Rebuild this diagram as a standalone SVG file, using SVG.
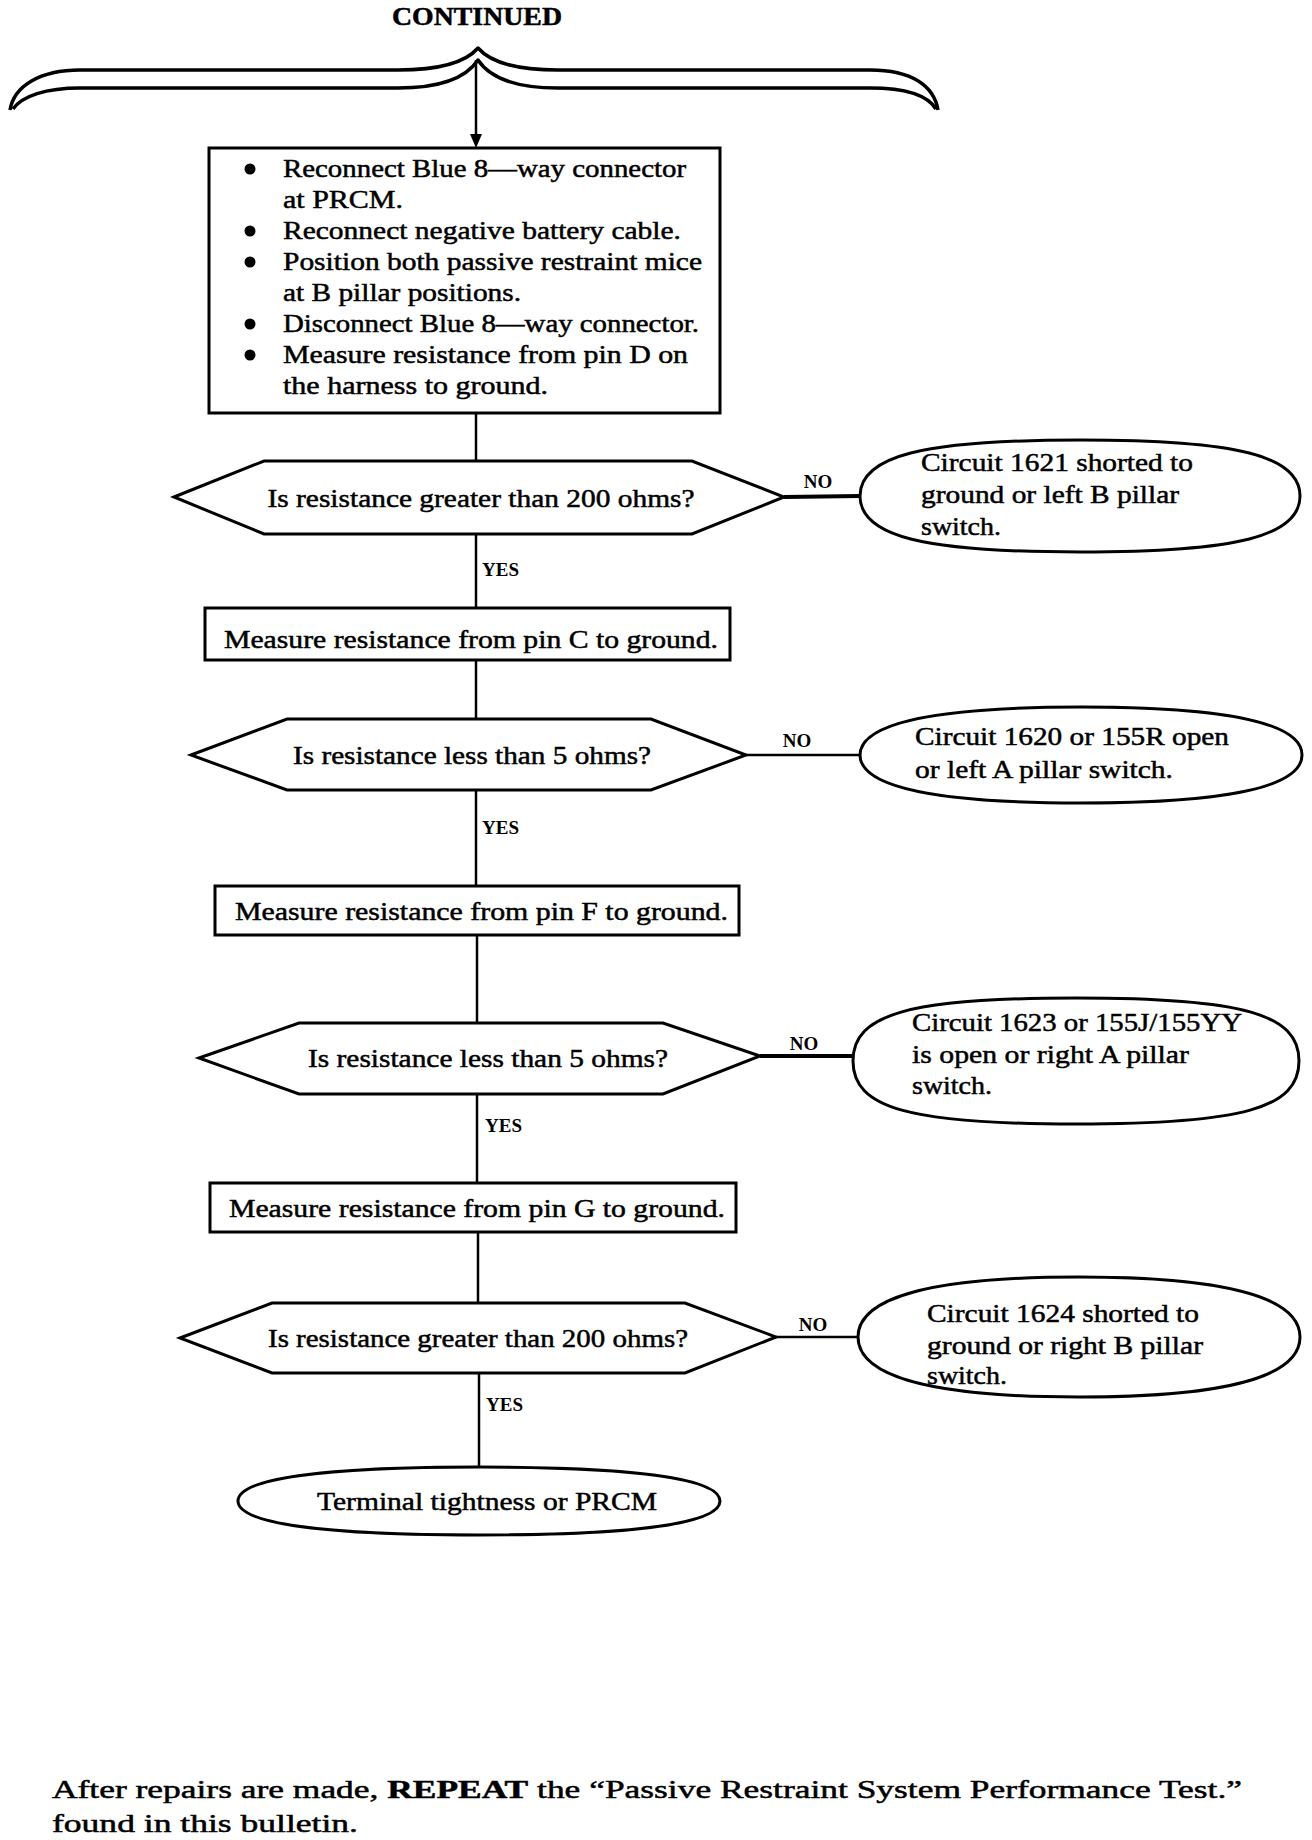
<svg xmlns="http://www.w3.org/2000/svg" width="1312" height="1840" viewBox="0 0 1312 1840">
<style>
.t{font-family:"Liberation Serif","Times New Roman",serif;font-size:26px;fill:#000;stroke:#000;stroke-width:0.5}
.b{font-weight:bold}
.lbl{font-family:"Liberation Serif","Times New Roman",serif;font-size:19px;font-weight:bold;fill:#000}
.shape{fill:#fff;stroke:#000;stroke-width:3}
.con{fill:none;stroke:#000;stroke-width:2.5}
.thick{stroke-width:4}
.brace{fill:none;stroke:#000;stroke-width:3.5;stroke-linejoin:round}
</style>
<rect width="1312" height="1840" fill="#fff"/>

<g id="header">
<text class="t b" x="477" y="25" text-anchor="middle" font-size="22" textLength="170" lengthAdjust="spacingAndGlyphs">CONTINUED</text>
<path class="brace" d="M10,110 C14,86 40,70 80,70 L398,70 C440,70 466,62 478,48 C490,62 516,70 558,70 L870,70 C912,70 934,86 938,110"/>
<path class="brace" d="M13,109 C22,96 46,88 80,88 L398,88 C440,88 466,78 478,60 C490,78 516,88 558,88 L870,88 C906,88 928,96 936,109"/>
</g>

<g id="connectors">
<line class="con" x1="476" y1="60" x2="476" y2="136"/>
<path d="M470,134 L482,134 L476,148 Z" fill="#000"/>
<line class="con" x1="476" y1="413" x2="476" y2="461"/>
<line class="con" x1="476" y1="534" x2="476" y2="608"/>
<line class="con thick" x1="784" y1="497" x2="860" y2="496"/>
<line class="con" x1="476" y1="660" x2="476" y2="719"/>
<line class="con" x1="476" y1="790" x2="476" y2="886"/>
<line class="con" x1="746" y1="755" x2="860" y2="755"/>
<line class="con" x1="477" y1="935" x2="477" y2="1023"/>
<line class="con" x1="477" y1="1094" x2="477" y2="1183"/>
<line class="con thick" x1="760" y1="1056" x2="854" y2="1056"/>
<line class="con" x1="478" y1="1232" x2="478" y2="1303"/>
<line class="con" x1="479" y1="1373" x2="479" y2="1467"/>
<line class="con" x1="776" y1="1337" x2="858" y2="1337"/>
<text class="lbl" x="818" y="488" text-anchor="middle">NO</text>
<text class="lbl" x="482" y="576">YES</text>
<text class="lbl" x="797" y="747" text-anchor="middle">NO</text>
<text class="lbl" x="482" y="834">YES</text>
<text class="lbl" x="804" y="1050" text-anchor="middle">NO</text>
<text class="lbl" x="485" y="1132">YES</text>
<text class="lbl" x="813" y="1331" text-anchor="middle">NO</text>
<text class="lbl" x="486" y="1411">YES</text>
</g>

<g id="box1">
<rect class="shape" x="209" y="148" width="511" height="265"/>
<circle cx="250" cy="169" r="5.5"/>
<circle cx="250" cy="231" r="5.5"/>
<circle cx="250" cy="262" r="5.5"/>
<circle cx="250" cy="324" r="5.5"/>
<circle cx="250" cy="355" r="5.5"/>
<text class="t" x="283" y="177" textLength="403" lengthAdjust="spacingAndGlyphs">Reconnect Blue 8—way connector</text>
<text class="t" x="283" y="208" textLength="120" lengthAdjust="spacingAndGlyphs">at PRCM.</text>
<text class="t" x="283" y="239" textLength="398" lengthAdjust="spacingAndGlyphs">Reconnect negative battery cable.</text>
<text class="t" x="283" y="270" textLength="419" lengthAdjust="spacingAndGlyphs">Position both passive restraint mice</text>
<text class="t" x="283" y="301" textLength="238" lengthAdjust="spacingAndGlyphs">at B pillar positions.</text>
<text class="t" x="283" y="332" textLength="416" lengthAdjust="spacingAndGlyphs">Disconnect Blue 8—way connector.</text>
<text class="t" x="283" y="363" textLength="405" lengthAdjust="spacingAndGlyphs">Measure resistance from pin D on</text>
<text class="t" x="283" y="394" textLength="265" lengthAdjust="spacingAndGlyphs">the harness to ground.</text>
</g>

<g id="decision1">
<polygon class="shape" points="174,497 264,461 692,461 784,497 692,534 264,534"/>
<text class="t" x="481" y="507" text-anchor="middle" textLength="427" lengthAdjust="spacingAndGlyphs">Is resistance greater than 200 ohms?</text>
</g>

<g id="result1">
<path class="shape" d="M860,496 C860,456 922,440 1080,440 C1238,440 1300,456 1300,496 C1300,536 1238,552 1080,552 C922,552 860,536 860,496 Z"/>
<text class="t" x="921" y="471" textLength="272" lengthAdjust="spacingAndGlyphs">Circuit 1621 shorted to</text>
<text class="t" x="921" y="503" textLength="258" lengthAdjust="spacingAndGlyphs">ground or left B pillar</text>
<text class="t" x="921" y="535" textLength="80" lengthAdjust="spacingAndGlyphs">switch.</text>
</g>

<g id="box2">
<rect class="shape" x="205" y="608" width="525" height="52"/>
<text class="t" x="224" y="648" textLength="494" lengthAdjust="spacingAndGlyphs">Measure resistance from pin C to ground.</text>
</g>

<g id="decision2">
<polygon class="shape" points="191,755 287,719 651,719 746,755 651,790 287,790"/>
<text class="t" x="472" y="764" text-anchor="middle" textLength="358" lengthAdjust="spacingAndGlyphs">Is resistance less than 5 ohms?</text>
</g>

<g id="result2">
<path class="shape" d="M860,755 C860,723 935,707 1081,707 C1227,707 1302,723 1302,755 C1302,787 1227,803 1081,803 C935,803 860,787 860,755 Z"/>
<text class="t" x="915" y="745" textLength="314" lengthAdjust="spacingAndGlyphs">Circuit 1620 or 155R open</text>
<text class="t" x="915" y="778" textLength="258" lengthAdjust="spacingAndGlyphs">or left A pillar switch.</text>
</g>

<g id="box3">
<rect class="shape" x="215" y="886" width="524" height="49"/>
<text class="t" x="235" y="920" textLength="493" lengthAdjust="spacingAndGlyphs">Measure resistance from pin F to ground.</text>
</g>

<g id="decision3">
<polygon class="shape" points="199,1058 299,1023 663,1023 760,1056 663,1094 299,1094"/>
<text class="t" x="488" y="1067" text-anchor="middle" textLength="360" lengthAdjust="spacingAndGlyphs">Is resistance less than 5 ohms?</text>
</g>

<g id="result3">
<path class="shape" d="M853,1061 C853,1014 909,998 1076,998 C1243,998 1299,1014 1299,1061 C1299,1108 1243,1124 1076,1124 C909,1124 853,1108 853,1061 Z"/>
<text class="t" x="912" y="1031" textLength="330" lengthAdjust="spacingAndGlyphs">Circuit 1623 or 155J/155YY</text>
<text class="t" x="912" y="1063" textLength="277" lengthAdjust="spacingAndGlyphs">is open or right A pillar</text>
<text class="t" x="912" y="1094" textLength="80" lengthAdjust="spacingAndGlyphs">switch.</text>
</g>

<g id="box4">
<rect class="shape" x="210" y="1183" width="526" height="49"/>
<text class="t" x="229" y="1217" textLength="496" lengthAdjust="spacingAndGlyphs">Measure resistance from pin G to ground.</text>
</g>

<g id="decision4">
<polygon class="shape" points="180,1338 272,1303 685,1303 776,1337 685,1373 272,1373"/>
<text class="t" x="478" y="1347" text-anchor="middle" textLength="420" lengthAdjust="spacingAndGlyphs">Is resistance greater than 200 ohms?</text>
</g>

<g id="result4">
<path class="shape" d="M858,1337 C858,1297 933,1277 1079,1277 C1225,1277 1300,1297 1300,1337 C1300,1377 1225,1397 1079,1397 C933,1397 858,1377 858,1337 Z"/>
<text class="t" x="927" y="1322" textLength="272" lengthAdjust="spacingAndGlyphs">Circuit 1624 shorted to</text>
<text class="t" x="927" y="1354" textLength="276" lengthAdjust="spacingAndGlyphs">ground or right B pillar</text>
<text class="t" x="927" y="1384" textLength="80" lengthAdjust="spacingAndGlyphs">switch.</text>
</g>

<g id="terminal">
<path class="shape" d="M238,1501 C238,1479 320,1467 479,1467 C638,1467 720,1479 720,1501 C720,1523 638,1535 479,1535 C320,1535 238,1523 238,1501 Z"/>
<text class="t" x="487" y="1510" text-anchor="middle" textLength="340" lengthAdjust="spacingAndGlyphs">Terminal tightness or PRCM</text>
</g>

<g id="footer">
<text class="t" x="52" y="1798" font-size="32" textLength="1190" lengthAdjust="spacingAndGlyphs">After repairs are made, <tspan font-weight="bold">REPEAT</tspan> the “Passive Restraint System Performance Test.”</text>
<text class="t" x="52" y="1832" font-size="32" textLength="306" lengthAdjust="spacingAndGlyphs">found in this bulletin.</text>
</g>
</svg>
